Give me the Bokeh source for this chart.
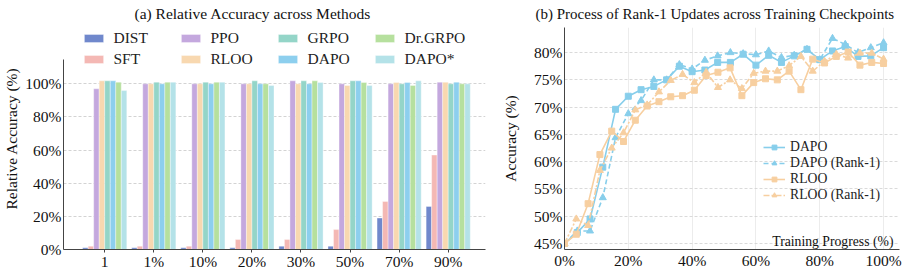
import numpy as np
from bokeh.plotting import figure
from bokeh.models import (Range1d, FixedTicker, PrintfTickFormatter, Legend,
                          LegendItem, Label)
from bokeh.layouts import row
from bokeh.embed import file_html
from bokeh.resources import INLINE

FONT = "Liberation Serif"

# ---------------- (a) data ----------------
groups = ["1", "1%", "10%", "20%", "30%", "50%", "70%", "90%"]
methods = ["DIST", "SFT", "PPO", "RLOO", "GRPO", "DAPO", "Dr.GRPO", "DAPO*"]
dist_vals = [1.0, 1.0, 1.0, 1.0, 2.0, 2.0, 19.0, 26.0]
sft_vals = [2.0, 2.0, 2.0, 6.0, 6.0, 12.0, 29.0, 57.0]
ppo_vals = [97.0, 100.0, 100.0, 100.0, 101.8, 100.0, 100.0, 101.0]
rloo_vals = [101.8, 100.0, 100.0, 100.0, 100.0, 99.0, 100.8, 101.0]
grpo_vals = [101.8, 101.0, 101.0, 101.8, 101.8, 101.8, 100.0, 100.0]
dapo_vals = [101.8, 100.0, 100.0, 100.0, 100.0, 101.8, 100.8, 101.0]
drgrpo_vals = [101.0, 101.0, 101.0, 100.0, 101.8, 100.8, 99.0, 100.0]
dapostar_vals = [95.9, 101.0, 101.0, 99.0, 100.8, 99.0, 101.8, 100.0]
bar_colors = ["#7088cc", "#f4b8b4", "#c4a8de", "#f8d8b0",
              "#94d5c8", "#8dcfee", "#b6e09e", "#b4e2e8"]
y_ticks_a = [0, 20, 40, 60, 80, 100]

# ---------------- (b) data ----------------
dapo_x = [0, 4, 8, 12, 16, 20, 24, 28, 32, 36, 40, 44, 48, 52, 56, 60, 64,
          68, 72, 76, 80, 84, 88, 92, 96, 100]
dapo_acc = [45.0, 47.0, 49.5, 59.0, 69.6, 72.0, 73.2, 73.8, 75.0, 77.5, 76.5,
            76.8, 78.2, 78.2, 79.7, 77.7, 79.5, 78.2, 79.4, 80.6, 78.7, 80.3,
            81.1, 79.3, 79.4, 80.9]
dapo_r1_acc = [45.0, 47.3, 47.3, 53.4, 64.4, 68.8, 71.2, 75.0, 75.0, 77.8,
               77.0, 78.6, 79.4, 80.0, 79.8, 79.6, 80.3, 79.1, 79.5, 80.6,
               78.7, 82.6, 81.5, 80.0, 80.9, 81.8]
rloo_x = [0, 3.7, 7.4, 11.1, 14.8, 18.5, 22.2, 25.9, 29.6, 33.3, 37.0, 40.7,
          44.4, 48.1, 51.9, 55.6, 59.3, 63.0, 66.7, 70.4, 74.1, 77.8, 81.5,
          85.2, 88.9, 92.6, 96.3, 100]
rloo_acc = [45.0, 46.7, 52.3, 61.3, 65.6, 63.7, 67.6, 70.2, 71.0, 71.9, 72.1,
            73.1, 75.8, 76.4, 77.2, 72.1, 74.5, 75.2, 75.0, 76.6, 73.2, 78.8,
            78.1, 79.3, 80.1, 77.7, 78.2, 78.0]
rloo_r1_acc = [45.0, 49.5, 48.3, 58.4, 62.5, 65.3, 69.5, 70.4, 72.8, 74.9,
               76.0, 74.5, 76.4, 73.6, 75.0, 73.4, 76.2, 76.6, 76.6, 77.6,
               79.3, 76.6, 78.4, 79.7, 79.0, 79.9, 79.9, 78.8]
x_ticks_b = [0, 20, 40, 60, 80, 100]
y_ticks_b = [45, 50, 55, 60, 65, 70, 75, 80]
c_dapo = "#87ceeb"
c_rloo = "#f7cfa0"

H = 272


def style_axes(p, size="15.5px"):
    for ax in (p.xaxis[0], p.yaxis[0]):
        ax.axis_line_color = "#444444"
        ax.axis_line_width = 1
        ax.major_label_text_font = FONT
        ax.major_label_text_font_size = size
        ax.major_label_text_color = "#111111"
        ax.axis_label_text_font = FONT
        ax.axis_label_text_font_size = size
        ax.axis_label_text_font_style = "normal"
        ax.axis_label_text_color = "#111111"
        ax.minor_tick_line_color = None
        ax.major_tick_in = 0
    p.outline_line_color = None
    p.background_fill_color = "white"
    p.border_fill_color = "white"


def style_title(p, text, size, offset):
    p.title.text = text
    p.title.text_font = FONT
    p.title.text_font_size = size
    p.title.text_font_style = "normal"
    p.title.text_color = "#111111"
    p.title.align = "left"
    p.title.vertical_align = "top"
    p.title.offset = offset
    p.title.standoff = 7


# ---------------- (a) figure ----------------
p1 = figure(width=496, height=H, x_range=Range1d(-0.84, 7.76),
            y_range=Range1d(0, 134), output_backend="svg",
            toolbar_location=None, min_border_left=58, min_border_right=11,
            min_border_bottom=21, min_border_top=27)
style_axes(p1)
style_title(p1, "(a) Relative Accuracy across Methods", "15.5px", 71)

series = [dist_vals, sft_vals, ppo_vals, rloo_vals, grpo_vals, dapo_vals,
          drgrpo_vals, dapostar_vals]
bw = 0.1125
gidx = np.arange(len(groups))
renderers = {}
for j, (name, vals, col) in enumerate(zip(methods, series, bar_colors)):
    r = p1.vbar(x=gidx + (j - 3.5) * bw, top=vals, width=bw, bottom=0,
                fill_color=col, line_color="white", line_width=0.6,
                line_alpha=0.6)
    renderers[name] = r

legend_order = ["DIST", "PPO", "GRPO", "Dr.GRPO", "SFT", "RLOO", "DAPO", "DAPO*"]
leg1 = Legend(items=[LegendItem(label=n, renderers=[renderers[n]]) for n in legend_order],
              orientation="horizontal", ncols=4, location="top_center")
leg1.label_text_font = FONT
leg1.label_text_font_size = "15.5px"
leg1.label_text_color = "#222222"
leg1.glyph_width = 24
leg1.glyph_height = 10
leg1.label_height = 17
leg1.label_width = 62
leg1.label_standoff = 8
leg1.spacing = 3
leg1.padding = 0
leg1.margin = 2
leg1.border_line_color = None
leg1.background_fill_alpha = 0
p1.add_layout(leg1, "center")

p1.xaxis.ticker = FixedTicker(ticks=list(gidx))
p1.xaxis.major_label_overrides = {int(i): g for i, g in enumerate(groups)}
p1.xaxis.major_tick_out = 3
p1.xaxis.major_tick_line_color = "#444444"
p1.xaxis.major_label_standoff = 0
p1.yaxis.ticker = FixedTicker(ticks=y_ticks_a)
p1.yaxis.bounds = (0, 114.6)
p1.yaxis.formatter = PrintfTickFormatter(format="%d%%")
p1.yaxis.major_tick_out = 0
p1.yaxis.major_label_standoff = 2
p1.yaxis.axis_label = "Relative Accuracy (%)"
p1.yaxis.axis_label_standoff = 2
p1.xgrid.grid_line_color = None
p1.ygrid.grid_line_color = "#c8c8c8"
p1.ygrid.grid_line_dash = "3 2"
p1.ygrid.grid_line_width = 0.8

# ---------------- (b) figure ----------------
p2 = figure(width=416, height=H, x_range=Range1d(0, 105),
            y_range=Range1d(43.9, 84.6), output_backend="svg",
            toolbar_location=None, min_border_left=68, min_border_right=13,
            min_border_bottom=21, min_border_top=27)
style_axes(p2)
style_title(p2, "(b) Process of  Rank-1 Updates across Training Checkpoints",
            "15px", -29)

lines = [
    ("DAPO", dapo_x, dapo_acc, c_dapo, "solid", "square", 6),
    ("DAPO (Rank-1)", dapo_x, dapo_r1_acc, c_dapo, "5 3", "triangle", 7),
    ("RLOO", rloo_x, rloo_acc, c_rloo, "solid", "square", 6),
    ("RLOO (Rank-1)", rloo_x, rloo_r1_acc, c_rloo, "6 2 2 2", "triangle", 7),
]
items = []
for name, xs, ys, col, dash, marker, ms in lines:
    lr = p2.line(xs, ys, line_color=col, line_width=1.6, line_dash=dash)
    sr = p2.scatter(xs, ys, marker=marker, size=ms, fill_color=col,
                    line_color=col)
    items.append(LegendItem(label=name, renderers=[lr, sr]))

leg2 = Legend(items=items, location=(199, 46))
leg2.label_text_font = FONT
leg2.label_text_font_size = "13.7px"
leg2.label_text_color = "#222222"
leg2.glyph_width = 22
leg2.glyph_height = 12
leg2.label_height = 12
leg2.label_standoff = 5
leg2.spacing = -5
leg2.padding = 2
leg2.margin = 0
leg2.border_line_color = None
leg2.background_fill_alpha = 0
p2.add_layout(leg2, "center")

p2.add_layout(Label(x=103.1, y=45.3, text="Training Progress (%)",
                    text_align="right", text_baseline="middle",
                    text_font=FONT, text_font_size="13.7px",
                    text_color="#111111"))

p2.xaxis.ticker = FixedTicker(ticks=x_ticks_b)
p2.xaxis.formatter = PrintfTickFormatter(format="%d%%")
p2.xaxis.major_tick_out = 0
p2.xaxis.major_label_standoff = 2
p2.yaxis.ticker = FixedTicker(ticks=y_ticks_b)
p2.yaxis.formatter = PrintfTickFormatter(format="%d%%")
p2.yaxis.major_tick_out = 0
p2.yaxis.major_label_standoff = 2
p2.yaxis.axis_label = "Accuracy (%)"
p2.yaxis.axis_label_standoff = 12
p2.xgrid.grid_line_color = "#ececec"
p2.xgrid.grid_line_width = 1
p2.ygrid.grid_line_color = "#d0d0d0"
p2.ygrid.grid_line_dash = "3 2"
p2.ygrid.grid_line_width = 0.8

layout = row(p1, p2)
open("out.html", "w").write(file_html(layout, INLINE))
